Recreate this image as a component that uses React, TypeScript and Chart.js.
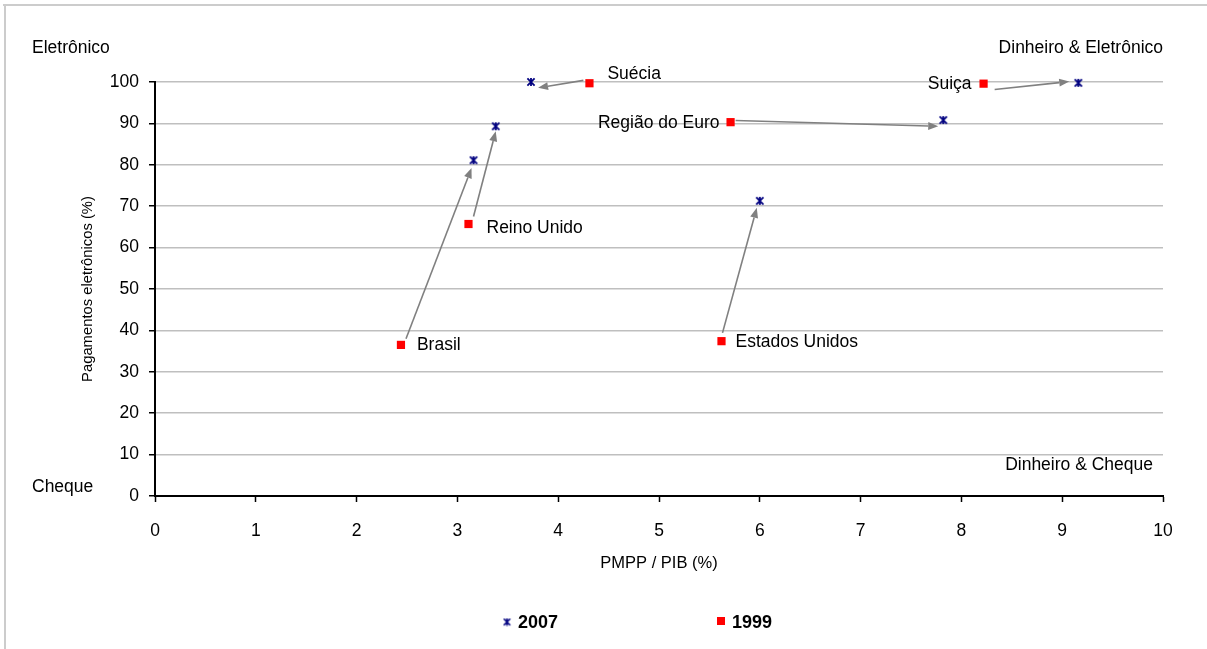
import React, { useEffect, useRef } from "react";
import { Chart, registerables } from "chart.js";

Chart.register(...registerables);

// ---- data ----
const countries = ["Brasil", "Reino Unido", "Suécia", "Região do Euro", "Suiça", "Estados Unidos"];
const pmpp1999 = [2.44, 3.11, 4.31, 5.71, 8.22, 5.62];
const elet1999 = [36.5, 65.7, 99.7, 90.3, 99.6, 37.4];
const pmpp2007 = [3.16, 3.38, 3.73, 7.82, 9.16, 6.0];
const elet2007 = [81.1, 89.3, 100, 90.8, 99.8, 71.3];
// arrows (data units): from near 1999 point to near 2007 point
const arrowFromX = [2.49, 3.16, 4.25, 5.76, 8.33, 5.63];
const arrowFromY = [38.0, 67.5, 100.4, 90.7, 98.2, 39.4];
const arrowToX = [3.14, 3.38, 3.8, 7.77, 9.07, 5.97];
const arrowToY = [79.2, 88.1, 98.6, 89.3, 100.1, 69.6];
const seriesNames = ["2007", "1999"];
const xTitle = "PMPP / PIB (%)";
const yTitle = "Pagamentos eletrônicos (%)";
const cornerLabels = ["Eletrônico", "Dinheiro & Eletrônico", "Cheque", "Dinheiro & Cheque"];
const xMin = 0, xMax = 10, xStep = 1;
const yMin = 0, yMax = 100, yStep = 10;

// ---- layout / style ----
const FONT = '"Liberation Sans", Arial, sans-serif';
const NAVY = "#000080";
const RED = "#ff0000";
const LABEL_SIZE = 17.5;
// [dx, dy, align] relative to 1999 marker
const labelOffsets: [number, number, CanvasTextAlign][] = [
  [16, 0, "left"],
  [18, 4, "left"],
  [18, -9, "left"],
  [-11, 1, "right"],
  [-12, 1, "right"],
  [14, 1, "left"],
];

function makeStar(size: number, lw: number): HTMLCanvasElement {
  const c = document.createElement("canvas");
  c.width = size;
  c.height = size;
  const g = c.getContext("2d")!;
  g.strokeStyle = NAVY;
  g.lineWidth = lw;
  const m = lw / 2 + 0.5;
  g.beginPath();
  g.moveTo(m, m);
  g.lineTo(size - m, size - m);
  g.moveTo(size - m, m);
  g.lineTo(m, size - m);
  g.moveTo(size / 2, m - 0.5);
  g.lineTo(size / 2, size - m + 0.5);
  g.stroke();
  return c;
}

export default function App() {
  const ref = useRef<HTMLCanvasElement>(null);

  useEffect(() => {
    if (!ref.current) return;
    const star = makeStar(10, 1.8);
    const starSmall = makeStar(9, 1.6);

    const decor = {
      id: "decor",
      beforeDraw(chart: any) {
        const ctx = chart.ctx;
        ctx.save();
        ctx.strokeStyle = "#cccccc";
        ctx.lineWidth = 2;
        ctx.beginPath();
        ctx.moveTo(3, 5);
        ctx.lineTo(chart.width, 5);
        ctx.moveTo(5, 5);
        ctx.lineTo(5, chart.height);
        ctx.stroke();
        ctx.restore();
      },
      beforeDatasetsDraw(chart: any) {
        const ctx = chart.ctx;
        const xs = chart.scales.x, ys = chart.scales.y;
        ctx.save();
        ctx.strokeStyle = "#808080";
        ctx.fillStyle = "#808080";
        ctx.lineWidth = 1.6;
        for (let i = 0; i < arrowFromX.length; i++) {
          const x1 = xs.getPixelForValue(arrowFromX[i]);
          const y1 = ys.getPixelForValue(arrowFromY[i]);
          const x2 = xs.getPixelForValue(arrowToX[i]);
          const y2 = ys.getPixelForValue(arrowToY[i]);
          const ang = Math.atan2(y2 - y1, x2 - x1);
          const hl = 10, hw = 4;
          const bx = x2 - hl * Math.cos(ang);
          const by = y2 - hl * Math.sin(ang);
          ctx.beginPath();
          ctx.moveTo(x1, y1);
          ctx.lineTo(bx, by);
          ctx.stroke();
          ctx.beginPath();
          ctx.moveTo(x2, y2);
          ctx.lineTo(bx + hw * Math.sin(ang), by - hw * Math.cos(ang));
          ctx.lineTo(bx - hw * Math.sin(ang), by + hw * Math.cos(ang));
          ctx.closePath();
          ctx.fill();
        }
        ctx.restore();
      },
      afterDraw(chart: any) {
        const ctx = chart.ctx;
        const xs = chart.scales.x, ys = chart.scales.y;
        const a = chart.chartArea;
        ctx.save();
        ctx.fillStyle = "#000";
        ctx.textBaseline = "middle";
        ctx.font = `${LABEL_SIZE}px ${FONT}`;
        for (let i = 0; i < countries.length; i++) {
          const px = xs.getPixelForValue(pmpp1999[i]);
          const py = ys.getPixelForValue(elet1999[i]);
          const [dx, dy, al] = labelOffsets[i];
          ctx.textAlign = al;
          ctx.fillText(countries[i], px + dx, py + dy);
        }
        // corner labels
        ctx.textAlign = "left";
        ctx.fillText(cornerLabels[0], 32, a.top - 34);
        ctx.textAlign = "right";
        ctx.fillText(cornerLabels[1], a.right, a.top - 34);
        ctx.textAlign = "left";
        ctx.fillText(cornerLabels[2], 32, a.bottom - 9);
        ctx.textAlign = "right";
        ctx.fillText(cornerLabels[3], a.right - 10, a.bottom - 31);

        // legend
        const ly = 622;
        const items = [
          { x: 507, img: starSmall },
          { x: 721, img: null },
        ];
        ctx.font = `bold 18px ${FONT}`;
        ctx.textAlign = "left";
        chart.data.datasets.forEach((ds: any, i: number) => {
          const it = items[i];
          if (it.img) {
            ctx.drawImage(it.img, it.x - it.img.width / 2, ly - it.img.height / 2);
          } else {
            ctx.fillStyle = RED;
            ctx.fillRect(it.x - 4, ly - 5, 8, 8);
            ctx.fillStyle = "#000";
          }
          ctx.fillText(ds.label, it.x + 11, ly + 1);
        });
        ctx.restore();
      },
    };

    const chart = new Chart(ref.current, {
      type: "scatter",
      data: {
        datasets: [
          {
            label: seriesNames[0],
            data: pmpp2007.map((x, i) => ({ x, y: elet2007[i] })),
            pointStyle: star as any,
            pointRadius: 5,
            clip: false as any,
          },
          {
            label: seriesNames[1],
            data: pmpp1999.map((x, i) => ({ x, y: elet1999[i] })),
            pointStyle: "rect",
            pointRadius: 5.8,
            backgroundColor: RED,
            borderColor: RED,
            borderWidth: 0,
            clip: false as any,
          },
        ],
      },
      options: {
        animation: false,
        responsive: false,
        devicePixelRatio: 1,
        events: [],
        layout: { padding: { top: 82, right: 44, left: 0, bottom: 0 } },
        plugins: {
          legend: { display: false },
          tooltip: { enabled: false },
          title: { display: false },
        },
        scales: {
          x: {
            type: "linear",
            min: xMin,
            max: xMax,
            afterFit: (s: any) => {
              s.height = 153;
            },
            ticks: {
              stepSize: xStep,
              color: "#000",
              font: { family: FONT, size: LABEL_SIZE },
              padding: 19,
              maxRotation: 0,
            },
            grid: {
              drawOnChartArea: false,
              drawTicks: true,
              tickLength: 6,
              tickColor: "#000",
              tickWidth: 1.5,
            },
            border: { display: true, color: "#000", width: 2 },
            title: {
              display: true,
              text: xTitle,
              color: "#000",
              font: { family: FONT, size: 16.5 },
              padding: { top: 0, bottom: 76 },
            },
          },
          y: {
            type: "linear",
            min: yMin,
            max: yMax,
            afterFit: (s: any) => {
              s.width = 155;
            },
            ticks: {
              stepSize: yStep,
              color: "#000",
              font: { family: FONT, size: LABEL_SIZE },
              padding: 10,
            },
            grid: {
              color: (c: any) => (c.tick && c.tick.value === 0 ? "rgba(0,0,0,0)" : "#bfbfbf"),
              lineWidth: 1.5,
              drawTicks: true,
              tickLength: 6,
              tickColor: "#000",
              tickWidth: 1.5,
            },
            border: { display: true, color: "#000", width: 2 },
            title: {
              display: true,
              text: yTitle,
              color: "#000",
              font: { family: FONT, size: 14.8 },
              padding: { top: 79, bottom: 0 },
            },
          },
        },
      },
      plugins: [decor],
    } as any);

    return () => chart.destroy();
  }, []);

  return (
    <div style={{ position: "absolute", left: 0, top: 0, width: 1207, height: 649, background: "#fff" }}>
      <canvas ref={ref} width={1207} height={649} style={{ display: "block", width: 1207, height: 649 }} />
    </div>
  );
}
